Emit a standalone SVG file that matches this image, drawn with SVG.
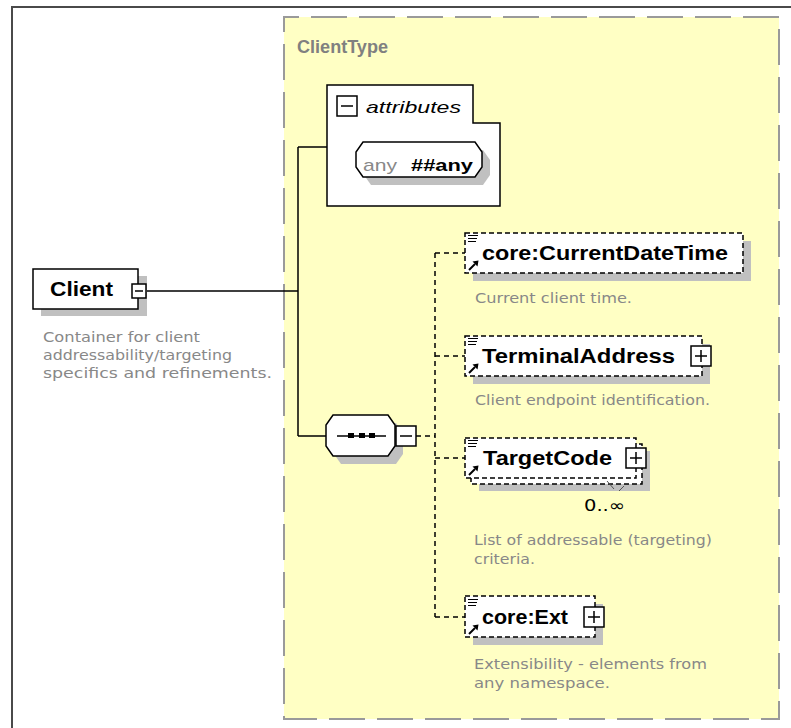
<svg xmlns="http://www.w3.org/2000/svg" width="791" height="728" viewBox="0 0 791 728">
<style>
.frame{fill:none;stroke:#4a4a4a;stroke-width:2}
.ctype{fill:#FFFFC4;stroke:#9a9a9a;stroke-width:2;stroke-dasharray:36 12;stroke-dashoffset:21}
.box{fill:#fff;stroke:#000;stroke-width:1.5}
.ebox{fill:#fff;stroke:#000;stroke-width:1.5;stroke-dasharray:5 3}
.shadow{fill:#c0c0c0;stroke:none}
.solid{fill:none;stroke:#000;stroke-width:1.5}
.dash{fill:none;stroke:#000;stroke-width:1.5;stroke-dasharray:5 4}
.lbl{font-family:"Liberation Sans",Arial,sans-serif;font-weight:bold;font-size:20px;fill:#000}
.desc{font-family:"DejaVu Sans","Liberation Sans",sans-serif;font-size:13.5px;fill:#888}
.title{font-family:"Liberation Sans",Arial,sans-serif;font-weight:bold;font-size:18px;fill:#808080}
.ic{stroke:#000;stroke-width:1.2;fill:none}
</style>
<defs>
<g id="elicon">
<path class="ic" d="M3,2.5H13M3,5.5H12M3,8.5H11"/>
<path d="M4,37L10,31" stroke="#000" stroke-width="2"/>
<path d="M13.5,27.5L7.5,28.5L12.5,33.5Z" fill="#000"/>
</g>
<g id="plus">
<rect x="0" y="0" width="20" height="20" fill="#fff" stroke="#000" stroke-width="1.5"/>
<path d="M4,10H16M10,4V16" stroke="#000" stroke-width="1.5"/>
</g>
<g id="minus">
<rect x="0" y="0" width="20" height="20" fill="#fff" stroke="#000" stroke-width="1.5"/>
<path d="M4,10H16" stroke="#000" stroke-width="1.5"/>
</g>
</defs>
<rect width="791" height="728" fill="#fff"/>
<path class="frame" d="M12,728V7H791"/>

<g id="ClientType">
<rect class="ctype" x="284" y="17" width="495" height="702"/>
<text class="title" x="297" y="53" textLength="91" lengthAdjust="spacingAndGlyphs">ClientType</text>
</g>

<g id="connectors">
<path class="solid" d="M146,291H298M298,147V436M298,147H327M298,436H326"/>
<path class="dash" d="M416,436H435M435,253V617M435,253H465M435,356H465M435,458H465M435,617H465"/>
</g>

<g id="attributes">
<path class="box" d="M327,85H473V123H500V206H327Z"/>
<use href="#minus" x="337" y="96"/>
<text x="366" y="113" font-family="Liberation Sans,Arial,sans-serif" font-style="italic" font-size="17" textLength="95" lengthAdjust="spacingAndGlyphs">attributes</text>
<path class="shadow" d="M371,150H483L490,160V175L483,185H371L364,175V160Z"/>
<path class="box" d="M363,142H475L482,152V167L475,177H363L356,167V152Z"/>
<text x="363" y="171" font-family="Liberation Sans,Arial,sans-serif" font-size="17" fill="#888" textLength="34" lengthAdjust="spacingAndGlyphs">any</text>
<text x="411" y="171" font-family="Liberation Sans,Arial,sans-serif" font-weight="bold" font-size="17" textLength="62" lengthAdjust="spacingAndGlyphs">##any</text>
</g>

<g id="Client">
<rect class="shadow" x="41" y="276" width="106" height="40"/>
<rect class="box" x="33" y="269" width="105" height="40"/>
<text class="lbl" x="50" y="296" textLength="63" lengthAdjust="spacingAndGlyphs">Client</text>
<rect x="132" y="284" width="14" height="14" fill="#fff" stroke="#000" stroke-width="1.5"/>
<path d="M135,291H143" stroke="#000" stroke-width="1.5"/>
<text class="desc" x="43" y="342" textLength="157" lengthAdjust="spacingAndGlyphs">Container for client</text>
<text class="desc" x="43" y="360" textLength="189" lengthAdjust="spacingAndGlyphs">addressability/targeting</text>
<text class="desc" x="43" y="378" textLength="229" lengthAdjust="spacingAndGlyphs">specifics and refinements.</text>
</g>

<g id="sequence">
<path class="shadow" d="M341,423H396L403,433V454L396,464H341L334,454V433Z"/>
<path class="box" d="M333,415H388L395,425V446L388,456H333L326,446V425Z"/>
<path d="M337,436H386" stroke="#000" stroke-width="1.5"/>
<rect x="348" y="433" width="6" height="5" fill="#000"/>
<rect x="359" y="433" width="6" height="5" fill="#000"/>
<rect x="369" y="433" width="6" height="5" fill="#000"/>
<use href="#minus" x="396" y="426"/>
</g>

<g id="CurrentDateTime">
<rect class="shadow" x="473" y="241" width="278" height="40"/>
<rect class="ebox" x="465" y="233" width="278" height="40"/>
<use href="#elicon" x="465" y="233"/>
<text class="lbl" x="482" y="260" textLength="246" lengthAdjust="spacingAndGlyphs">core:CurrentDateTime</text>
<text class="desc" x="475" y="303" textLength="157" lengthAdjust="spacingAndGlyphs">Current client time.</text>
</g>

<g id="TerminalAddress">
<rect class="shadow" x="473" y="344" width="237" height="40"/>
<rect class="ebox" x="465" y="336" width="237" height="40"/>
<use href="#elicon" x="465" y="336"/>
<text class="lbl" x="482" y="363" textLength="193" lengthAdjust="spacingAndGlyphs">TerminalAddress</text>
<use href="#plus" x="691" y="346"/>
<text class="desc" x="475" y="405" textLength="235" lengthAdjust="spacingAndGlyphs">Client endpoint identification.</text>
</g>

<g id="TargetCode">
<rect class="shadow" x="479" y="451" width="171" height="40"/>
<rect class="ebox" x="471" y="444" width="171" height="40"/>
<rect class="ebox" x="465" y="438" width="171" height="40"/>
<use href="#elicon" x="465" y="438"/>
<text class="lbl" x="483" y="465" textLength="129" lengthAdjust="spacingAndGlyphs">TargetCode</text>
<use href="#plus" x="626" y="448"/>
<path d="M607,481L614,489M619,491L624,486" stroke="#555" stroke-width="1"/>
<text x="584" y="511" font-family="DejaVu Sans,Liberation Sans,sans-serif" font-size="16" textLength="41" lengthAdjust="spacingAndGlyphs">0..∞</text>
<text class="desc" x="474" y="545" textLength="238" lengthAdjust="spacingAndGlyphs">List of addressable (targeting)</text>
<text class="desc" x="474" y="564" textLength="61" lengthAdjust="spacingAndGlyphs">criteria.</text>
</g>

<g id="coreExt">
<rect class="shadow" x="473" y="604" width="130" height="41"/>
<rect class="ebox" x="465" y="596" width="130" height="41"/>
<use href="#elicon" x="465" y="597"/>
<text class="lbl" x="482" y="624" textLength="86" lengthAdjust="spacingAndGlyphs">core:Ext</text>
<use href="#plus" x="584" y="607"/>
<text class="desc" x="474" y="669" textLength="233" lengthAdjust="spacingAndGlyphs">Extensibility - elements from</text>
<text class="desc" x="474" y="688" textLength="136" lengthAdjust="spacingAndGlyphs">any namespace.</text>
</g>
</svg>
